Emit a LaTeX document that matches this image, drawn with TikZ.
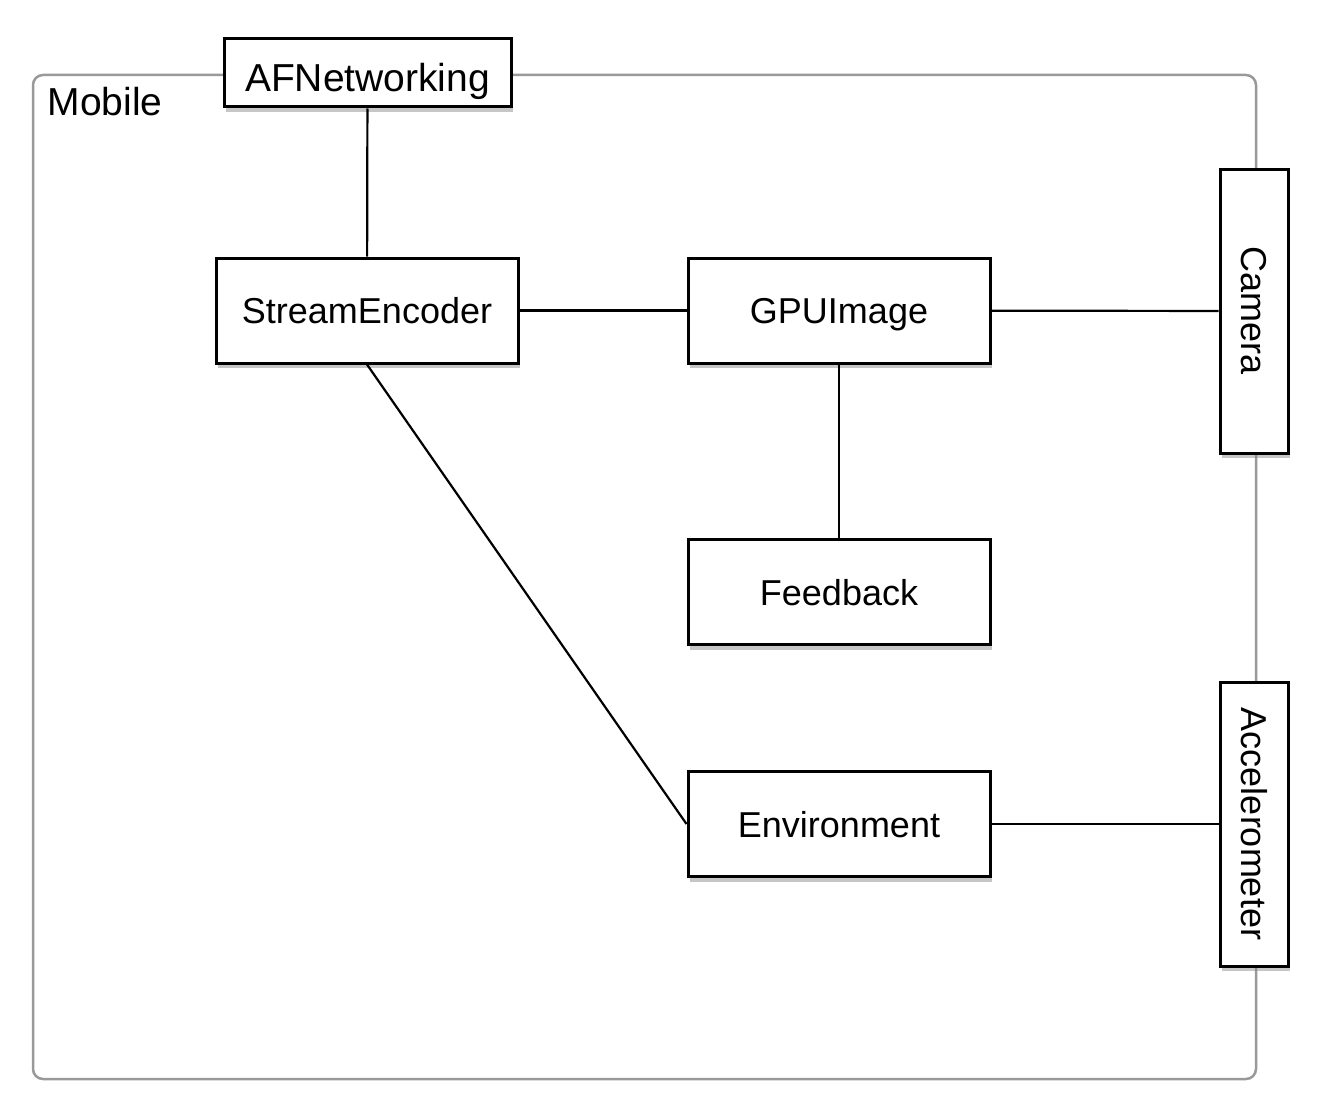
\documentclass[tikz,border=0pt]{standalone}
\usepackage{fontspec}
\setmainfont{Liberation Sans}
\usetikzlibrary{graphs,shadows}

\tikzset{
  comp/.style={draw, line width=3pt, fill=white, inner sep=0pt,
    minimum width=302pt, minimum height=105pt,
    text height=26pt, text depth=0pt,
    font=\fontsize{36}{40}\selectfont,
    drop shadow={shadow xshift=2pt, shadow yshift=-5pt, opacity=0.45}},
  dev/.style={comp, minimum width=284pt, minimum height=68pt, rotate=-90},
}

\begin{document}
\begin{tikzpicture}[x=1pt, y=-1pt, line width=2.2pt]
      \useasboundingbox (0,0) rectangle (1335,1113);

      % mobile platform
      \draw[gray!80, line width=2.5pt, rounded corners=10pt] (33,75) rectangle (1256,1079);
      \node (mob) at (105,102) {\fontsize{39}{42}\selectfont Mobile};

      \node[comp, minimum width=287pt, minimum height=68pt, text height=37pt,
        font=\fontsize{39}{42}\selectfont] (afn) at (367.5,73) {AFNetworking};

      \node[comp] (se) at (367,310.5) {StreamEncoder};
      \node[comp] (gpu) at (839,310.5) {GPUImage};
      \node[comp] (fb) at (839,592) {Feedback};
      \node[comp] (env) at (839,824) {Environment};

      \node[dev] (cam) at (1254,311) {Camera};
      \node[dev] (acc) at (1254,824) {Accelerometer};

      \graph[use existing nodes] {
        afn -- se -- gpu -- cam;
        gpu -- fb;
        env -- acc;
      };
      \draw (se.south) -- (env.west);
  \end{tikzpicture}
\end{document}
